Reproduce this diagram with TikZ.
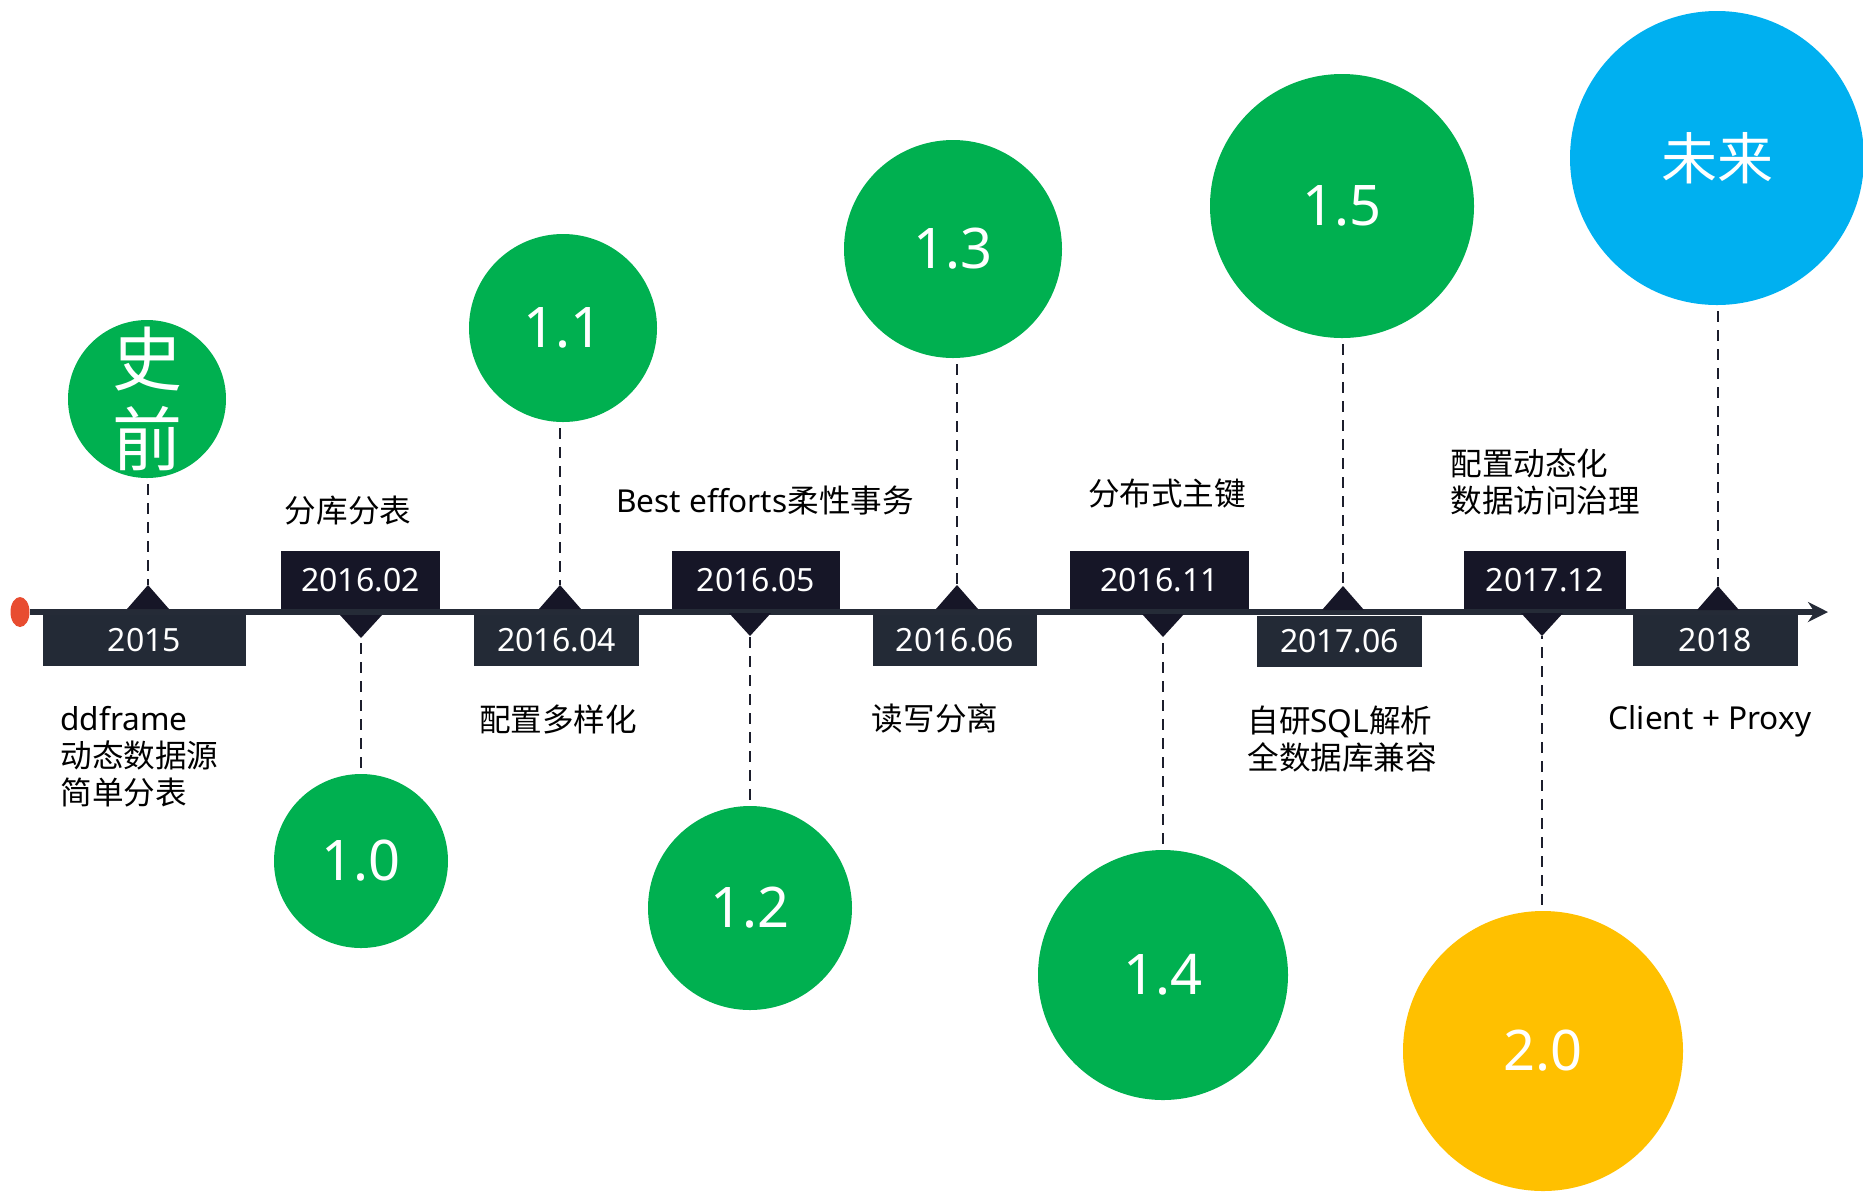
\documentclass[tikz,border=0pt]{standalone}
\usepackage{fontspec}
\setmainfont{Noto Sans CJK SC}
\newfontfamily\latf{Noto Sans}
\usetikzlibrary{arrows.meta,shapes.geometric}
\definecolor{cgreen}{HTML}{00B050}
\definecolor{cblue}{HTML}{00B0F0}
\definecolor{cyellow}{HTML}{FFC000}
\definecolor{cred}{HTML}{E84C30}
\definecolor{boxup}{HTML}{161627}
\definecolor{boxdn}{HTML}{232A36}
\definecolor{axisc}{HTML}{252B37}
\definecolor{dashc}{HTML}{1C1E2C}
\begin{document}
\begin{tikzpicture}[x=0.5pt,y=-0.5pt,
  bubble/.style={circle, inner sep=0pt, text=white, font=\latf\fontsize{28}{28}\selectfont},
  upbox/.style={fill=boxup, text=white, inner sep=0pt, minimum height=29pt, font=\latf\fontsize{16}{16}\selectfont},
  dnbox/.style={fill=boxdn, text=white, inner sep=0pt, minimum height=25.5pt, font=\latf\fontsize{16}{16}\selectfont},
  lbl/.style={text=black, inner sep=0pt, font=\fontsize{15.8}{18.4}\selectfont, align=left},
  conn/.style={draw=dashc, line width=1.3pt, dash pattern=on 5.5pt off 4pt, shorten <=3pt},
  tri/.style={fill=boxup}
]
\useasboundingbox (0,0) rectangle (1863,1191);

% axis
\node (dot) [fill=cred, ellipse, minimum width=9.5pt, minimum height=15pt, inner sep=0pt] at (20,612) {};
\coordinate (axend) at (1828,612);
\draw[axisc, line width=3pt, -{Stealth[length=10pt,width=10pt]}] (dot.east) -- (axend);

% boxes below the axis
\node[dnbox, minimum width=101.5pt] (b0) at (144.5,640) {2015};
\node[dnbox, minimum width=82.5pt] (b2) at (556.5,640) {2016.04};
\node[dnbox, minimum width=82pt] (b4) at (955,640) {2016.06};
\node[dnbox, minimum width=82.5pt] (b6) at (1339.5,641) {2017.06};
\node[dnbox, minimum width=82.5pt] (b8) at (1715.5,640.5) {2018};
% boxes above the axis
\node[upbox, minimum width=79.5pt] (b1) at (360.5,580) {2016.02};
\node[upbox, minimum width=84pt] (b3) at (756,580) {2016.05};
\node[upbox, minimum width=89.5pt] (b5) at (1159.5,580) {2016.11};
\node[upbox, minimum width=81pt] (b7) at (1545,580) {2017.12};

% triangle apexes
\coordinate (a0) at (148,585);
\coordinate (a2) at (560,585);
\coordinate (a4) at (957,585);
\coordinate (a6) at (1343,586);
\coordinate (a8) at (1718,586);
\coordinate (a1) at (361,638);
\coordinate (a3) at (750,636);
\coordinate (a5) at (1163,637);
\coordinate (a7) at (1542,636);
\foreach \i in {0,2,4,6,8}{
  \fill[tri] (a\i) -- ++(-21,24) -- ++(42,0) -- cycle;
}
\foreach \i in {1,3,5,7}{
  \fill[tri] (a\i) -- ++(-21,-23) -- ++(42,0) -- cycle;
}

% circles
\node[bubble, fill=cgreen, minimum size=79pt,
  label={[text=white, font=\fontsize{35}{40}\selectfont, align=center]center:史\\前}] (c0) at (147,399) {};
\node[bubble, fill=cgreen, minimum size=87pt] (c1) at (361,861) {1.0};
\node[bubble, fill=cgreen, minimum size=94pt] (c2) at (563,328) {1.1};
\node[bubble, fill=cgreen, minimum size=102pt] (c3) at (750,908) {1.2};
\node[bubble, fill=cgreen, minimum size=109pt] (c4) at (953,249) {1.3};
\node[bubble, fill=cgreen, minimum size=125pt] (c5) at (1163,975) {1.4};
\node[bubble, fill=cgreen, minimum size=132pt] (c6) at (1342,206) {1.5};
\node[bubble, fill=cyellow, minimum size=140pt] (c7) at (1543,1051) {2.0};
\node[bubble, fill=cblue, minimum size=147pt, font=\fontsize{28}{28}\selectfont] (c8) at (1717,158) {未来};

% dashed connectors
\foreach \i in {0,2,4,6,8}{
  \draw[conn] (a\i |- c\i.south) -- (a\i);
}
\foreach \i in {1,3,5,7}{
  \draw[conn] (a\i |- c\i.north) -- (a\i);
}

% labels
\node[lbl] (l1) at (348,511) {分库分表};
\node[lbl] (l3) at (765,501) {{\latf Best efforts}柔性事务};
\node[lbl] (l5) at (1167,494) {分布式主键};
\node[lbl, anchor=west] (l7) at (1450,482) {配置动态化\\数据访问治理};
\node[lbl, anchor=west] (l0) at (60,757) {{\latf ddframe}\\动态数据源\\简单分表};
\node[lbl] (l2) at (558,719) {配置多样化};
\node[lbl] (l4) at (935,718) {读写分离};
\node[lbl, anchor=west] (l6) at (1247,739) {自研{\latf SQL}解析\\全数据库兼容};
\node[lbl] (l8) at (1710,721) {{\latf Client + Proxy}};
\end{tikzpicture}
\end{document}
